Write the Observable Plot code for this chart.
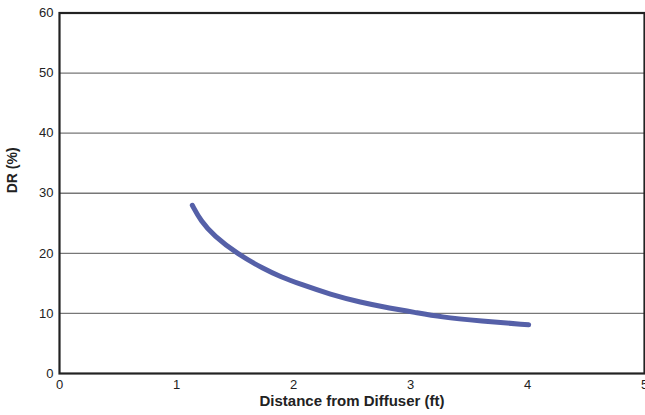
<!DOCTYPE html>
<html>
<head>
<meta charset="utf-8">
<script src="https://cdn.jsdelivr.net/npm/d3@7"></script>
<script src="https://cdn.jsdelivr.net/npm/@observablehq/plot@0.6"></script>
<style>
  html, body { margin: 0; padding: 0; background: #fff; }
  #chart svg { font-family: "Liberation Sans", Arial, sans-serif; }
</style>
</head>
<body>
<div id="chart"></div>
<script>
const distance = [1.135, 1.207, 1.32, 1.52, 1.747, 1.89, 2.06, 2.317, 2.57, 2.83, 3.03, 3.256, 3.6, 4.01];
const drPercent = [28.0, 25.4, 22.9, 19.9, 17.4, 16.1, 14.85, 13.15, 11.85, 10.85, 10.2, 9.4, 8.75, 8.1];
const xTicks = [0, 1, 2, 3, 4, 5];
const yTicks = [0, 10, 20, 30, 40, 50, 60];
const gridValues = [10, 20, 30, 40, 50];
const xTitle = "Distance from Diffuser (ft)";
const yTitle = "DR (%)";

const data = distance.map((d, i) => ({x: d, y: drPercent[i]}));

const chart = Plot.plot({
  width: 645,
  height: 415,
  marginLeft: 59,
  marginRight: 1,
  marginTop: 12.5,
  marginBottom: 42,
  style: {fontSize: "13px", color: "#222", background: "#fff"},
  x: {domain: [0, 5]},
  y: {domain: [0, 60]},
  marks: [
    Plot.ruleY(gridValues, {stroke: "#777", strokeWidth: 1.4}),
    Plot.axisX({ticks: xTicks, tickSize: 0, tickPadding: 6, label: null, tickFormat: d => String(d), fill: "#222", fontSize: 13}),
    Plot.axisY({ticks: yTicks, tickSize: 0, tickPadding: 6, label: null, tickFormat: d => String(d), fill: "#222", fontSize: 13}),
    Plot.line(data, {x: "x", y: "y", stroke: "#5560a8", strokeWidth: 5, curve: "basis", strokeLinecap: "round"}),
    Plot.frame({stroke: "#222", strokeWidth: 2.2}),
    Plot.text([xTitle], {frameAnchor: "bottom", dy: 32, fontWeight: "bold", fontSize: 15, fill: "#222"}),
    Plot.text([yTitle], {frameAnchor: "left", dx: -47, dy: 0, rotate: -90, fontWeight: "bold", fontSize: 14, fill: "#222"})
  ]
});
document.getElementById("chart").append(chart);
</script>
</body>
</html>
